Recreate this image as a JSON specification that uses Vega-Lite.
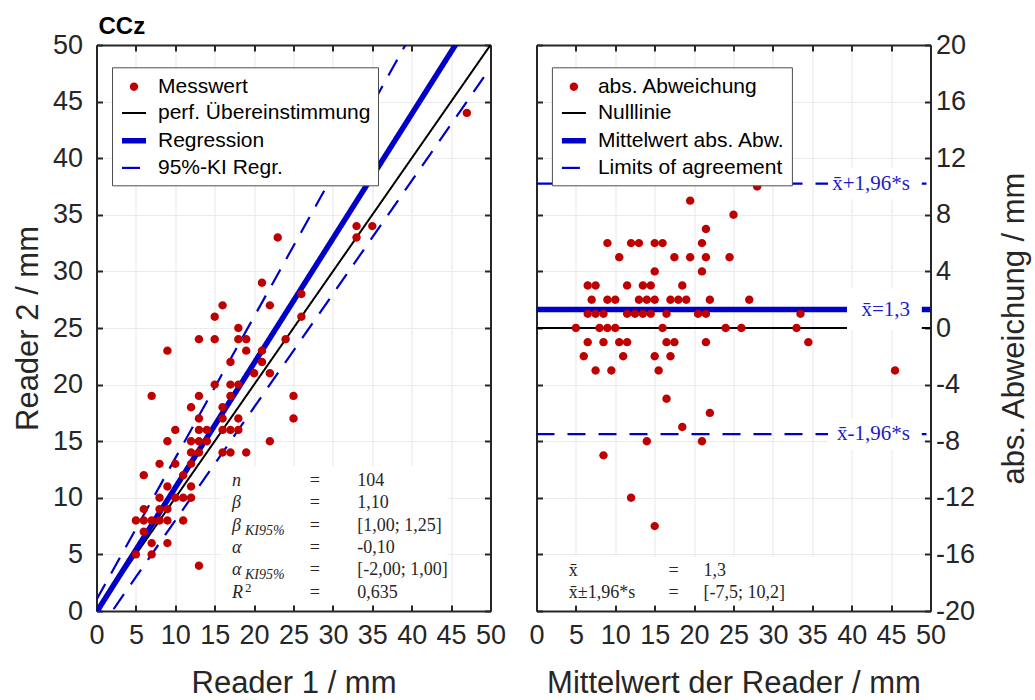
{
  "$schema": "https://vega.github.io/schema/vega-lite/v6.json",
  "background": "white",
  "padding": {"left": 11.5, "top": 15, "right": 2, "bottom": 0},
  "spacing": 22,
  "resolve": {
    "scale": {"color": "independent", "shape": "independent", "strokeWidth": "independent", "strokeDash": "independent"},
    "legend": {"color": "independent", "shape": "independent", "strokeWidth": "independent", "strokeDash": "independent"}
  },
  "datasets": {
    "pairs": [
      {"r1": 23, "r2": 33, "m": 28, "d": 10},
      {"r1": 21, "r2": 29, "m": 25, "d": 8},
      {"r1": 16, "r2": 27, "m": 21.5, "d": 11},
      {"r1": 22, "r2": 27, "m": 24.5, "d": 5},
      {"r1": 15, "r2": 26, "m": 20.5, "d": 11},
      {"r1": 18, "r2": 25, "m": 21.5, "d": 7},
      {"r1": 13, "r2": 24, "m": 18.5, "d": 11},
      {"r1": 15, "r2": 24, "m": 19.5, "d": 9},
      {"r1": 18, "r2": 24, "m": 21, "d": 6},
      {"r1": 19, "r2": 24, "m": 21.5, "d": 5},
      {"r1": 9, "r2": 23, "m": 16, "d": 14},
      {"r1": 19, "r2": 23, "m": 21, "d": 4},
      {"r1": 24, "r2": 24, "m": 24, "d": 0},
      {"r1": 21, "r2": 23, "m": 22, "d": 2},
      {"r1": 17, "r2": 22, "m": 19.5, "d": 5},
      {"r1": 21, "r2": 22, "m": 21.5, "d": 1},
      {"r1": 20, "r2": 21, "m": 20.5, "d": 1},
      {"r1": 22, "r2": 21, "m": 21.5, "d": -1},
      {"r1": 15, "r2": 20, "m": 17.5, "d": 5},
      {"r1": 17, "r2": 20, "m": 18.5, "d": 3},
      {"r1": 18, "r2": 20, "m": 19, "d": 2},
      {"r1": 7, "r2": 19, "m": 13, "d": 12},
      {"r1": 13, "r2": 19, "m": 16, "d": 6},
      {"r1": 17, "r2": 19, "m": 18, "d": 2},
      {"r1": 25, "r2": 19, "m": 22, "d": -6},
      {"r1": 12, "r2": 18, "m": 15, "d": 6},
      {"r1": 16, "r2": 18, "m": 17, "d": 2},
      {"r1": 13, "r2": 17, "m": 15, "d": 4},
      {"r1": 16, "r2": 17, "m": 16.5, "d": 1},
      {"r1": 18, "r2": 17, "m": 17.5, "d": -1},
      {"r1": 25, "r2": 17, "m": 21, "d": -8},
      {"r1": 10, "r2": 16, "m": 13, "d": 6},
      {"r1": 13, "r2": 16, "m": 14.5, "d": 3},
      {"r1": 14, "r2": 16, "m": 15, "d": 2},
      {"r1": 16, "r2": 16, "m": 16, "d": 0},
      {"r1": 17, "r2": 16, "m": 16.5, "d": -1},
      {"r1": 18, "r2": 16, "m": 17, "d": -2},
      {"r1": 26, "r2": 26, "m": 26, "d": 0},
      {"r1": 26, "r2": 28, "m": 27, "d": 2},
      {"r1": 33, "r2": 33, "m": 33, "d": 0},
      {"r1": 33, "r2": 34, "m": 33.5, "d": 1},
      {"r1": 35, "r2": 34, "m": 34.5, "d": -1},
      {"r1": 47, "r2": 44, "m": 45.5, "d": -3},
      {"r1": 9, "r2": 15, "m": 12, "d": 6},
      {"r1": 12, "r2": 15, "m": 13.5, "d": 3},
      {"r1": 13, "r2": 15, "m": 14, "d": 2},
      {"r1": 14, "r2": 15, "m": 14.5, "d": 1},
      {"r1": 22, "r2": 15, "m": 18.5, "d": -7},
      {"r1": 12, "r2": 14, "m": 13, "d": 2},
      {"r1": 13, "r2": 14, "m": 13.5, "d": 1},
      {"r1": 16, "r2": 14, "m": 15, "d": -2},
      {"r1": 17, "r2": 14, "m": 15.5, "d": -3},
      {"r1": 19, "r2": 14, "m": 16.5, "d": -5},
      {"r1": 8, "r2": 13, "m": 10.5, "d": 5},
      {"r1": 10, "r2": 13, "m": 11.5, "d": 3},
      {"r1": 12, "r2": 13, "m": 12.5, "d": 1},
      {"r1": 6, "r2": 12, "m": 9, "d": 6},
      {"r1": 11, "r2": 12, "m": 11.5, "d": 1},
      {"r1": 9, "r2": 11, "m": 10, "d": 2},
      {"r1": 12, "r2": 11, "m": 11.5, "d": -1},
      {"r1": 8, "r2": 10, "m": 9, "d": 2},
      {"r1": 10, "r2": 10, "m": 10, "d": 0},
      {"r1": 11, "r2": 10, "m": 10.5, "d": -1},
      {"r1": 12, "r2": 10, "m": 11, "d": -2},
      {"r1": 6, "r2": 9, "m": 7.5, "d": 3},
      {"r1": 8, "r2": 9, "m": 8.5, "d": 1},
      {"r1": 9, "r2": 9, "m": 9, "d": 0},
      {"r1": 5, "r2": 8, "m": 6.5, "d": 3},
      {"r1": 6, "r2": 8, "m": 7, "d": 2},
      {"r1": 7, "r2": 8, "m": 7.5, "d": 1},
      {"r1": 8, "r2": 8, "m": 8, "d": 0},
      {"r1": 9, "r2": 8, "m": 8.5, "d": -1},
      {"r1": 11, "r2": 8, "m": 9.5, "d": -3},
      {"r1": 6, "r2": 7, "m": 6.5, "d": 1},
      {"r1": 7, "r2": 6, "m": 6.5, "d": -1},
      {"r1": 9, "r2": 6, "m": 7.5, "d": -3},
      {"r1": 5, "r2": 5, "m": 5, "d": 0},
      {"r1": 7, "r2": 5, "m": 6, "d": -2},
      {"r1": 13, "r2": 4, "m": 8.5, "d": -9},
      {"r1": 18, "r2": 10, "m": 14, "d": -8},
      {"r1": 18, "r2": 6, "m": 12, "d": -12},
      {"r1": 22, "r2": 8, "m": 15, "d": -14}
    ]
  },
  "hconcat": [
    {
      "title": {"text": "CCz", "anchor": "start", "frame": "group", "fontSize": 24, "fontWeight": "bold", "font": "Liberation Sans", "color": "black", "offset": -8, "dx": 2},
      "width": 394,
      "height": 566,
      "resolve": {"axis": {"x": "independent", "y": "independent"}},
      "layer": [
        {
          "data": {"values": [{"r1": 0, "r2": 0}, {"r1": 50, "r2": 50}]},
          "mark": {"type": "line", "clip": true, "strokeCap": "butt"},
          "encoding": {
            "x": {"field": "r1", "type": "quantitative", "scale": {"domain": [0, 50], "nice": false},
              "axis": {"orient": "bottom", "values": [0, 5, 10, 15, 20, 25, 30, 35, 40, 45, 50], "title": "Reader 1 / mm", "grid": true, "labelPadding": 17, "titlePadding": 20}},
            "y": {"field": "r2", "type": "quantitative", "scale": {"domain": [0, 50], "nice": false},
              "axis": {"orient": "left", "values": [0, 5, 10, 15, 20, 25, 30, 35, 40, 45, 50], "title": "Reader 2 / mm", "grid": true, "labelPadding": 20, "titlePadding": 8}},
            "color": {"datum": "perf. Übereinstimmung", "type": "nominal",
              "scale": {"domain": ["Messwert", "perf. Übereinstimmung", "Regression", "95%-KI Regr."], "range": ["#C00000", "#000000", "#0000C8", "#0000C8"]},
              "legend": {"orient": "none", "legendX": 15.5, "legendY": 22.3, "title": null}},
            "strokeWidth": {"datum": "perf. Übereinstimmung", "type": "nominal",
              "scale": {"type": "ordinal", "domain": ["Messwert", "perf. Übereinstimmung", "Regression", "95%-KI Regr."], "range": [0.01, 2, 5.5, 2.2]},
              "legend": {"orient": "none", "legendX": 15.5, "legendY": 22.3, "title": null}},
            "strokeDash": {"datum": "perf. Übereinstimmung", "type": "nominal",
              "scale": {"domain": ["Messwert", "perf. Übereinstimmung", "Regression", "95%-KI Regr."], "range": [[1, 0], [1, 0], [1, 0], [18, 12]]},
              "legend": {"orient": "none", "legendX": 15.5, "legendY": 22.3, "title": null}}
          }
        },
        {
          "data": {"values": [
            {"r1": 0, "r2": 1, "g": "oben"}, {"r1": 50, "r2": 63.5, "g": "oben"},
            {"r1": 0, "r2": -2, "g": "unten"}, {"r1": 50, "r2": 48, "g": "unten"}
          ]},
          "mark": {"type": "line", "clip": true, "strokeCap": "butt"},
          "encoding": {
            "x": {"field": "r1", "type": "quantitative", "axis": null},
            "y": {"field": "r2", "type": "quantitative", "axis": null},
            "detail": {"field": "g"},
            "color": {"datum": "95%-KI Regr.", "type": "nominal",
              "scale": {"domain": ["Messwert", "perf. Übereinstimmung", "Regression", "95%-KI Regr."], "range": ["#C00000", "#000000", "#0000C8", "#0000C8"]},
              "legend": {"orient": "none", "legendX": 15.5, "legendY": 22.3, "title": null}},
            "strokeWidth": {"datum": "95%-KI Regr.", "type": "nominal",
              "scale": {"type": "ordinal", "domain": ["Messwert", "perf. Übereinstimmung", "Regression", "95%-KI Regr."], "range": [0.01, 2, 5.5, 2.2]},
              "legend": {"orient": "none", "legendX": 15.5, "legendY": 22.3, "title": null}},
            "strokeDash": {"datum": "95%-KI Regr.", "type": "nominal",
              "scale": {"domain": ["Messwert", "perf. Übereinstimmung", "Regression", "95%-KI Regr."], "range": [[1, 0], [1, 0], [1, 0], [18, 12]]},
              "legend": {"orient": "none", "legendX": 15.5, "legendY": 22.3, "title": null}}
          }
        },
        {
          "data": {"values": [{"r1": 0, "r2": -0.1}, {"r1": 50, "r2": 54.9}]},
          "mark": {"type": "line", "clip": true, "strokeCap": "butt"},
          "encoding": {
            "x": {"field": "r1", "type": "quantitative", "axis": null},
            "y": {"field": "r2", "type": "quantitative", "axis": null},
            "color": {"datum": "Regression", "type": "nominal",
              "scale": {"domain": ["Messwert", "perf. Übereinstimmung", "Regression", "95%-KI Regr."], "range": ["#C00000", "#000000", "#0000C8", "#0000C8"]},
              "legend": {"orient": "none", "legendX": 15.5, "legendY": 22.3, "title": null}},
            "strokeWidth": {"datum": "Regression", "type": "nominal",
              "scale": {"type": "ordinal", "domain": ["Messwert", "perf. Übereinstimmung", "Regression", "95%-KI Regr."], "range": [0.01, 2, 5.5, 2.2]},
              "legend": {"orient": "none", "legendX": 15.5, "legendY": 22.3, "title": null}},
            "strokeDash": {"datum": "Regression", "type": "nominal",
              "scale": {"domain": ["Messwert", "perf. Übereinstimmung", "Regression", "95%-KI Regr."], "range": [[1, 0], [1, 0], [1, 0], [18, 12]]},
              "legend": {"orient": "none", "legendX": 15.5, "legendY": 22.3, "title": null}}
          }
        },
        {
          "data": {"name": "pairs"},
          "mark": {"type": "point", "filled": true, "size": 576, "opacity": 1},
          "encoding": {
            "x": {"field": "r1", "type": "quantitative", "axis": null},
            "y": {"field": "r2", "type": "quantitative", "axis": null},
            "color": {"datum": "Messwert", "type": "nominal",
              "scale": {"domain": ["Messwert", "perf. Übereinstimmung", "Regression", "95%-KI Regr."], "range": ["#C00000", "#000000", "#0000C8", "#0000C8"]},
              "legend": {"orient": "none", "legendX": 15.5, "legendY": 22.3, "title": null}},
            "shape": {"datum": "Messwert", "type": "nominal",
              "scale": {"domain": ["Messwert", "perf. Übereinstimmung", "Regression", "95%-KI Regr."], "range": ["M-0.35,0A0.35,0.35 0 1,1 0.35,0A0.35,0.35 0 1,1 -0.35,0Z", "stroke", "stroke", "stroke"]},
              "legend": {"orient": "none", "legendX": 15.5, "legendY": 22.3, "title": null}},
            "strokeWidth": {"datum": "Messwert", "type": "nominal",
              "scale": {"type": "ordinal", "domain": ["Messwert", "perf. Übereinstimmung", "Regression", "95%-KI Regr."], "range": [0.01, 2, 5.5, 2.2]},
              "legend": {"orient": "none", "legendX": 15.5, "legendY": 22.3, "title": null}},
            "strokeDash": {"datum": "Messwert", "type": "nominal",
              "scale": {"domain": ["Messwert", "perf. Übereinstimmung", "Regression", "95%-KI Regr."], "range": [[1, 0], [1, 0], [1, 0], [18, 12]]},
              "legend": {"orient": "none", "legendX": 15.5, "legendY": 22.3, "title": null}}
          }
        },
        {
          "data": {"values": [{}]},
          "mark": {"type": "rect", "fill": "white", "strokeWidth": 0},
          "encoding": {
            "x": {"datum": 15.8, "type": "quantitative", "axis": null},
            "x2": {"datum": 44.5},
            "y": {"datum": 0.55, "type": "quantitative", "axis": null},
            "y2": {"datum": 12.8}
          }
        },
        {
          "data": {"values": [{}]},
          "mark": {"type": "text", "text": ["n", "β", "β", "α", "α", "R"], "font": "Liberation Serif", "fontStyle": "italic", "fontSize": 18, "align": "left", "baseline": "top", "lineHeight": 22.4, "color": "#262626"},
          "encoding": {
            "x": {"datum": 17.2, "type": "quantitative", "axis": null},
            "y": {"datum": 12.3, "type": "quantitative", "axis": null}
          }
        },
        {
          "data": {"values": [{}]},
          "mark": {"type": "text", "text": "KI95%", "font": "Liberation Serif", "fontStyle": "italic", "fontSize": 14, "align": "left", "baseline": "top", "dx": 13, "dy": 7, "color": "#262626"},
          "encoding": {
            "x": {"datum": 17.2, "type": "quantitative", "axis": null},
            "y": {"datum": 8.34, "type": "quantitative", "axis": null}
          }
        },
        {
          "data": {"values": [{}]},
          "mark": {"type": "text", "text": "KI95%", "font": "Liberation Serif", "fontStyle": "italic", "fontSize": 14, "align": "left", "baseline": "top", "dx": 13, "dy": 7, "color": "#262626"},
          "encoding": {
            "x": {"datum": 17.2, "type": "quantitative", "axis": null},
            "y": {"datum": 4.38, "type": "quantitative", "axis": null}
          }
        },
        {
          "data": {"values": [{}]},
          "mark": {"type": "text", "text": "2", "font": "Liberation Serif", "fontSize": 13, "align": "left", "baseline": "top", "dx": 13, "dy": -2, "color": "#262626"},
          "encoding": {
            "x": {"datum": 17.2, "type": "quantitative", "axis": null},
            "y": {"datum": 2.41, "type": "quantitative", "axis": null}
          }
        },
        {
          "data": {"values": [{}]},
          "mark": {"type": "text", "text": ["=", "=", "=", "=", "=", "="], "font": "Liberation Serif", "fontSize": 18, "align": "center", "baseline": "top", "lineHeight": 22.4, "color": "#262626"},
          "encoding": {
            "x": {"datum": 27.7, "type": "quantitative", "axis": null},
            "y": {"datum": 12.3, "type": "quantitative", "axis": null}
          }
        },
        {
          "data": {"values": [{}]},
          "mark": {"type": "text", "text": ["104", "1,10", "[1,00; 1,25]", "-0,10", "[-2,00; 1,00]", "0,635"], "font": "Liberation Serif", "fontSize": 18, "align": "left", "baseline": "top", "lineHeight": 22.4, "color": "#262626"},
          "encoding": {
            "x": {"datum": 33.1, "type": "quantitative", "axis": null},
            "y": {"datum": 12.3, "type": "quantitative", "axis": null}
          }
        },
        {
          "data": {"values": []},
          "mark": "point",
          "encoding": {
            "x": {"field": "r1", "type": "quantitative",
              "axis": {"orient": "top", "values": [0, 5, 10, 15, 20, 25, 30, 35, 40, 45, 50], "labels": false, "title": null, "grid": false}},
            "y": {"field": "r2", "type": "quantitative",
              "axis": {"orient": "right", "values": [0, 5, 10, 15, 20, 25, 30, 35, 40, 45, 50], "labels": false, "title": null, "grid": false}}
          }
        }
      ]
    },
    {
      "width": 394,
      "height": 566,
      "resolve": {"axis": {"x": "independent", "y": "independent"}},
      "layer": [
        {
          "data": {"values": [{"m": 0, "d": 0}, {"m": 50, "d": 0}]},
          "mark": {"type": "line", "clip": true, "strokeCap": "butt"},
          "encoding": {
            "x": {"field": "m", "type": "quantitative", "scale": {"domain": [0, 50], "nice": false},
              "axis": {"orient": "bottom", "values": [0, 5, 10, 15, 20, 25, 30, 35, 40, 45, 50], "title": "Mittelwert der Reader / mm", "grid": true, "labelPadding": 17, "titlePadding": 20}},
            "y": {"field": "d", "type": "quantitative", "scale": {"domain": [-20, 20], "nice": false},
              "axis": {"orient": "right", "values": [-20, -16, -12, -8, -4, 0, 4, 8, 12, 16, 20], "labelExpr": "replace(datum.label, '−', '-')", "title": "abs. Abweichung / mm", "titleAngle": 270, "titleBaseline": "top", "grid": true, "labelPadding": 11, "titlePadding": 25}},
            "color": {"datum": "Nulllinie", "type": "nominal",
              "scale": {"domain": ["abs. Abweichung", "Nulllinie", "Mittelwert abs. Abw.", "Limits of agreement"], "range": ["#C00000", "#000000", "#0000C8", "#0000C8"]},
              "legend": {"orient": "none", "legendX": 15.4, "legendY": 22.3, "title": null}},
            "strokeWidth": {"datum": "Nulllinie", "type": "nominal",
              "scale": {"type": "ordinal", "domain": ["abs. Abweichung", "Nulllinie", "Mittelwert abs. Abw.", "Limits of agreement"], "range": [0.01, 2, 5.5, 2.2]},
              "legend": {"orient": "none", "legendX": 15.4, "legendY": 22.3, "title": null}},
            "strokeDash": {"datum": "Nulllinie", "type": "nominal",
              "scale": {"domain": ["abs. Abweichung", "Nulllinie", "Mittelwert abs. Abw.", "Limits of agreement"], "range": [[1, 0], [1, 0], [1, 0], [18, 13]]},
              "legend": {"orient": "none", "legendX": 15.4, "legendY": 22.3, "title": null}}
          }
        },
        {
          "data": {"values": [{"m": 0, "d": 1.3}, {"m": 50, "d": 1.3}]},
          "mark": {"type": "line", "clip": true, "strokeCap": "butt"},
          "encoding": {
            "x": {"field": "m", "type": "quantitative", "axis": null},
            "y": {"field": "d", "type": "quantitative", "axis": null},
            "color": {"datum": "Mittelwert abs. Abw.", "type": "nominal",
              "scale": {"domain": ["abs. Abweichung", "Nulllinie", "Mittelwert abs. Abw.", "Limits of agreement"], "range": ["#C00000", "#000000", "#0000C8", "#0000C8"]},
              "legend": {"orient": "none", "legendX": 15.4, "legendY": 22.3, "title": null}},
            "strokeWidth": {"datum": "Mittelwert abs. Abw.", "type": "nominal",
              "scale": {"type": "ordinal", "domain": ["abs. Abweichung", "Nulllinie", "Mittelwert abs. Abw.", "Limits of agreement"], "range": [0.01, 2, 5.5, 2.2]},
              "legend": {"orient": "none", "legendX": 15.4, "legendY": 22.3, "title": null}},
            "strokeDash": {"datum": "Mittelwert abs. Abw.", "type": "nominal",
              "scale": {"domain": ["abs. Abweichung", "Nulllinie", "Mittelwert abs. Abw.", "Limits of agreement"], "range": [[1, 0], [1, 0], [1, 0], [18, 13]]},
              "legend": {"orient": "none", "legendX": 15.4, "legendY": 22.3, "title": null}}
          }
        },
        {
          "data": {"values": [
            {"m": 0, "d": 10.2, "g": "oben"}, {"m": 50, "d": 10.2, "g": "oben"},
            {"m": 0, "d": -7.5, "g": "unten"}, {"m": 50, "d": -7.5, "g": "unten"}
          ]},
          "mark": {"type": "line", "clip": true, "strokeCap": "butt"},
          "encoding": {
            "x": {"field": "m", "type": "quantitative", "axis": null},
            "y": {"field": "d", "type": "quantitative", "axis": null},
            "detail": {"field": "g"},
            "color": {"datum": "Limits of agreement", "type": "nominal",
              "scale": {"domain": ["abs. Abweichung", "Nulllinie", "Mittelwert abs. Abw.", "Limits of agreement"], "range": ["#C00000", "#000000", "#0000C8", "#0000C8"]},
              "legend": {"orient": "none", "legendX": 15.4, "legendY": 22.3, "title": null}},
            "strokeWidth": {"datum": "Limits of agreement", "type": "nominal",
              "scale": {"type": "ordinal", "domain": ["abs. Abweichung", "Nulllinie", "Mittelwert abs. Abw.", "Limits of agreement"], "range": [0.01, 2, 5.5, 2.2]},
              "legend": {"orient": "none", "legendX": 15.4, "legendY": 22.3, "title": null}},
            "strokeDash": {"datum": "Limits of agreement", "type": "nominal",
              "scale": {"domain": ["abs. Abweichung", "Nulllinie", "Mittelwert abs. Abw.", "Limits of agreement"], "range": [[1, 0], [1, 0], [1, 0], [18, 13]]},
              "legend": {"orient": "none", "legendX": 15.4, "legendY": 22.3, "title": null}}
          }
        },
        {
          "data": {"name": "pairs"},
          "mark": {"type": "point", "filled": true, "size": 576, "opacity": 1},
          "encoding": {
            "x": {"field": "m", "type": "quantitative", "axis": null},
            "y": {"field": "d", "type": "quantitative", "axis": null},
            "color": {"datum": "abs. Abweichung", "type": "nominal",
              "scale": {"domain": ["abs. Abweichung", "Nulllinie", "Mittelwert abs. Abw.", "Limits of agreement"], "range": ["#C00000", "#000000", "#0000C8", "#0000C8"]},
              "legend": {"orient": "none", "legendX": 15.4, "legendY": 22.3, "title": null}},
            "shape": {"datum": "abs. Abweichung", "type": "nominal",
              "scale": {"domain": ["abs. Abweichung", "Nulllinie", "Mittelwert abs. Abw.", "Limits of agreement"], "range": ["M-0.35,0A0.35,0.35 0 1,1 0.35,0A0.35,0.35 0 1,1 -0.35,0Z", "stroke", "stroke", "stroke"]},
              "legend": {"orient": "none", "legendX": 15.4, "legendY": 22.3, "title": null}},
            "strokeWidth": {"datum": "abs. Abweichung", "type": "nominal",
              "scale": {"type": "ordinal", "domain": ["abs. Abweichung", "Nulllinie", "Mittelwert abs. Abw.", "Limits of agreement"], "range": [0.01, 2, 5.5, 2.2]},
              "legend": {"orient": "none", "legendX": 15.4, "legendY": 22.3, "title": null}},
            "strokeDash": {"datum": "abs. Abweichung", "type": "nominal",
              "scale": {"domain": ["abs. Abweichung", "Nulllinie", "Mittelwert abs. Abw.", "Limits of agreement"], "range": [[1, 0], [1, 0], [1, 0], [18, 13]]},
              "legend": {"orient": "none", "legendX": 15.4, "legendY": 22.3, "title": null}}
          }
        },
        {
          "data": {"values": [{}]},
          "mark": {"type": "rect", "fill": "white", "strokeWidth": 0},
          "encoding": {
            "x": {"datum": 37, "type": "quantitative", "axis": null},
            "x2": {"datum": 48.9},
            "y": {"datum": 9.1, "type": "quantitative", "axis": null},
            "y2": {"datum": 11.3}
          }
        },
        {
          "data": {"values": [{}]},
          "mark": {"type": "rect", "fill": "white", "strokeWidth": 0},
          "encoding": {
            "x": {"datum": 39.4, "type": "quantitative", "axis": null},
            "x2": {"datum": 48.9},
            "y": {"datum": -0.15, "type": "quantitative", "axis": null},
            "y2": {"datum": 2.8}
          }
        },
        {
          "data": {"values": [{}]},
          "mark": {"type": "rect", "fill": "white", "strokeWidth": 0},
          "encoding": {
            "x": {"datum": 37, "type": "quantitative", "axis": null},
            "x2": {"datum": 48.9},
            "y": {"datum": -8.6, "type": "quantitative", "axis": null},
            "y2": {"datum": -6.4}
          }
        },
        {
          "data": {"values": [{}]},
          "mark": {"type": "rect", "fill": "white", "strokeWidth": 0},
          "encoding": {
            "x": {"datum": 0.8, "type": "quantitative", "axis": null},
            "x2": {"datum": 37},
            "y": {"datum": -19.6, "type": "quantitative", "axis": null},
            "y2": {"datum": -16.2}
          }
        },
        {
          "data": {"values": [{}]},
          "mark": {"type": "text", "text": "x̄+1,96*s", "font": "Liberation Serif", "fontSize": 21, "align": "right", "baseline": "middle", "color": "#1C1CC8"},
          "encoding": {
            "x": {"datum": 47.4, "type": "quantitative", "axis": null},
            "y": {"datum": 10.2, "type": "quantitative", "axis": null}
          }
        },
        {
          "data": {"values": [{}]},
          "mark": {"type": "text", "text": "x̄=1,3", "font": "Liberation Serif", "fontSize": 21, "align": "right", "baseline": "middle", "color": "#1C1CC8"},
          "encoding": {
            "x": {"datum": 47.4, "type": "quantitative", "axis": null},
            "y": {"datum": 1.3, "type": "quantitative", "axis": null}
          }
        },
        {
          "data": {"values": [{}]},
          "mark": {"type": "text", "text": "x̄-1,96*s", "font": "Liberation Serif", "fontSize": 21, "align": "right", "baseline": "middle", "color": "#1C1CC8"},
          "encoding": {
            "x": {"datum": 47.4, "type": "quantitative", "axis": null},
            "y": {"datum": -7.5, "type": "quantitative", "axis": null}
          }
        },
        {
          "data": {"values": [{}]},
          "mark": {"type": "text", "text": ["x̄", "x̄±1,96*s"], "font": "Liberation Serif", "fontSize": 18, "align": "left", "baseline": "top", "lineHeight": 22, "color": "#262626"},
          "encoding": {
            "x": {"datum": 4.1, "type": "quantitative", "axis": null},
            "y": {"datum": -16.54, "type": "quantitative", "axis": null}
          }
        },
        {
          "data": {"values": [{}]},
          "mark": {"type": "text", "text": ["=", "="], "font": "Liberation Serif", "fontSize": 18, "align": "center", "baseline": "top", "lineHeight": 22, "color": "#262626"},
          "encoding": {
            "x": {"datum": 17.4, "type": "quantitative", "axis": null},
            "y": {"datum": -16.54, "type": "quantitative", "axis": null}
          }
        },
        {
          "data": {"values": [{}]},
          "mark": {"type": "text", "text": ["1,3", "[-7,5; 10,2]"], "font": "Liberation Serif", "fontSize": 18, "align": "left", "baseline": "top", "lineHeight": 22, "color": "#262626"},
          "encoding": {
            "x": {"datum": 21.2, "type": "quantitative", "axis": null},
            "y": {"datum": -16.54, "type": "quantitative", "axis": null}
          }
        },
        {
          "data": {"values": []},
          "mark": "point",
          "encoding": {
            "x": {"field": "m", "type": "quantitative",
              "axis": {"orient": "top", "values": [0, 5, 10, 15, 20, 25, 30, 35, 40, 45, 50], "labels": false, "title": null, "grid": false}},
            "y": {"field": "d", "type": "quantitative",
              "axis": {"orient": "left", "values": [-20, -16, -12, -8, -4, 0, 4, 8, 12, 16, 20], "labels": false, "title": null, "grid": false}}
          }
        }
      ]
    }
  ],
  "config": {
    "view": {"stroke": null},
    "font": "Liberation Sans",
    "axis": {
      "domainColor": "#262626",
      "domainWidth": 2,
      "tickColor": "#262626",
      "tickWidth": 2,
      "tickSize": -6,
      "labelColor": "#262626",
      "labelFont": "Liberation Sans",
      "labelFontSize": 27,
      "labelFlush": false,
      "labelOverlap": false,
      "titleFont": "Liberation Sans",
      "titleFontSize": 31,
      "titleFontWeight": "normal",
      "titleColor": "#262626",
      "gridColor": "#EBEBEB",
      "gridWidth": 1.2,
      "zindex": 1
    },
    "legend": {
      "fillColor": "white",
      "strokeColor": "#4D4D4D",
      "padding": 7,
      "rowPadding": 2.7,
      "labelOffset": 9,
      "labelFont": "Liberation Sans",
      "labelFontSize": 21,
      "labelColor": "black",
      "labelLimit": 400,
      "symbolSize": 576,
      "cornerRadius": 0
    }
  }
}
